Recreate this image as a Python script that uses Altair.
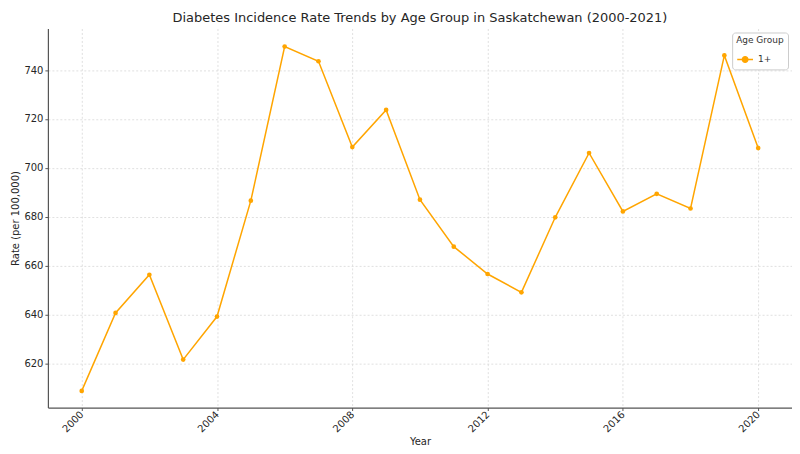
import altair as alt
import pandas as pd

years = list(range(2000, 2021))
rates = [608.8, 640.7, 656.3, 621.6, 639.2, 686.6, 749.6, 743.6, 708.5, 723.7,
         687.0, 667.8, 656.6, 649.1, 679.8, 706.1, 682.2, 689.4, 683.4, 746.0, 708.1]
groups = ["1+"] * len(years)

df = pd.DataFrame({"Year": years, "Rate": rates, "Age Group": groups})

font = "DejaVu Sans"

chart = alt.Chart(df).mark_line(
    point=alt.OverlayMarkDef(size=22, filled=True), strokeWidth=1.5
).encode(
    x=alt.X("Year:Q", scale=alt.Scale(domain=[1999, 2021], nice=False, zero=False),
            axis=alt.Axis(values=[2000, 2004, 2008, 2012, 2016, 2020], format="d",
                          labelAngle=-45, labelAlign="right", labelBaseline="middle",
                          title="Year")),
    y=alt.Y("Rate:Q", scale=alt.Scale(domain=[602, 757], nice=False, zero=False),
            axis=alt.Axis(values=[620, 640, 660, 680, 700, 720, 740],
                          title="Rate (per 100,000)")),
    color=alt.Color("Age Group:N", scale=alt.Scale(range=["#FFA500"]),
                    legend=alt.Legend(orient="top-right", title="Age Group",
                                      symbolType="M-1,0L1,0M-0.35,0A0.35,0.35,0,1,1,0.35,0A0.35,0.35,0,1,1,-0.35,0",
                                      symbolSize=250, symbolStrokeWidth=1.5,
                                      fillColor="white", strokeColor="#cccccc",
                                      padding=4, cornerRadius=3,
                                      titleFontSize=9, labelFontSize=9,
                                      titleFontWeight="normal", titleFont=font, labelFont=font,
                                      titleColor="#333333", labelColor="#333333",
                                      offset=4)),
).properties(
    width=746, height=380,
    title=alt.TitleParams("Diabetes Incidence Rate Trends by Age Group in Saskatchewan (2000-2021)",
                          fontSize=13, fontWeight="normal", font=font, color="#262626", offset=4),
    autosize=alt.AutoSizeParams(type="none"),
    padding={"left": 40, "top": 20, "right": 0, "bottom": 38},
).configure_axis(
    grid=True, gridDash=[2, 2], gridColor="#d8d8d8", gridWidth=0.8,
    domainColor="#555555", domainWidth=1.2, tickColor="#555555", tickSize=3,
    labelFont=font, titleFont=font, labelFontSize=10, titleFontSize=10,
    labelColor="#262626", titleColor="#262626", titleFontWeight="normal",
).configure_axisY(titlePadding=3, labelPadding=2).configure_axisX(titlePadding=3, labelPadding=2
).configure_view(stroke=None)

chart.save("out.html", embed_options={"renderer": "svg", "actions": False})
